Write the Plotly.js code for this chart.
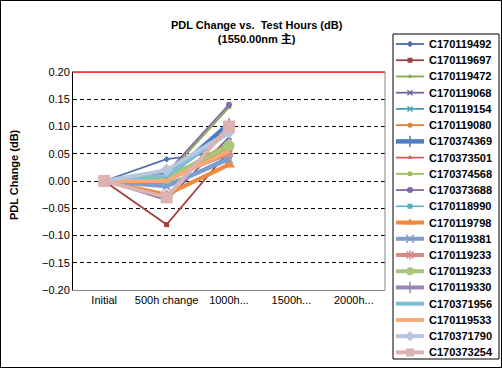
<!DOCTYPE html>
<html>
<head>
<meta charset="utf-8">
<script src="https://cdn.plot.ly/plotly-3.0.1.min.js"></script>
<style>
html,body{margin:0;padding:0;background:#fff;}
#chart{width:500px;height:366px;border:1px solid #000;}
</style>
</head>
<body>
<div id="chart"></div>
<script>
// ---- data ----
const categories = ["Initial", "500h change", "1000h...", "1500h...", "2000h..."];
const seriesNames = [
  "C170119492","C170119697","C170119472","C170119068","C170119154",
  "C170119080","C170374369","C170373501","C170374568","C170373688",
  "C170118990","C170119798","C170119381","C170119233","C170119233",
  "C170119330","C170371956","C170119533","C170371790","C170373254"
];
const s01 = [0, 0.040, 0.055];
const s02 = [0, -0.080, 0.055];
const s03 = [0, 0.010, 0.135];
const s04 = [0, -0.035, 0.080];
const s05 = [0, -0.010, 0.045];
const s06 = [0, 0.005, 0.070];
const s07 = [0, 0.005, 0.105];
const s08 = [0, 0.000, 0.060];
const s09 = [0, 0.010, 0.060];
const s10 = [0, 0.015, 0.140];
const s11 = [0, -0.005, 0.040];
const s12 = [0, -0.025, 0.030];
const s13 = [0, -0.010, 0.040];
const s14 = [0, 0.005, 0.050];
const s15 = [0, 0.005, 0.065];
const s16 = [0, 0.010, 0.090];
const s17 = [0, 0.010, 0.090];
const s18 = [0, 0.000, 0.055];
const s19 = [0, 0.020, 0.090];
const s20 = [0, -0.030, 0.100];
const seriesValues = [s01,s02,s03,s04,s05,s06,s07,s08,s09,s10,s11,s12,s13,s14,s15,s16,s17,s18,s19,s20];
const upperLimit = 0.20;
const yTickVals = [-0.20,-0.15,-0.10,-0.05,0.00,0.05,0.10,0.15,0.20];

// ---- styles ----
const styles = [
  {c:'#4F6FA6', w:1.8, m:'diamond', s:5},
  {c:'#A0403E', w:1.8, m:'square', s:5},
  {c:'#8AA84E', w:1.8, m:'triangle-up', s:5},
  {c:'#7463A0', w:1.8, m:'x-thin-open', s:5},
  {c:'#4AA0B5', w:1.8, m:'x-thin-open', s:5},
  {c:'#D9843D', w:1.8, m:'circle', s:5},
  {c:'#4F7EC0', w:4.5, m:'line-ns-open', s:8},
  {c:'#D0605C', w:1.8, m:'triangle-up', s:5},
  {c:'#9BBE5C', w:1.8, m:'circle', s:5},
  {c:'#8468A8', w:1.8, m:'circle', s:6},
  {c:'#52AFC8', w:1.5, m:'square', s:5},
  {c:'#EF8A3F', w:4, m:'triangle-up', s:11},
  {c:'#7F9DCE', w:4, m:'x-thin-open', s:8},
  {c:'#D98A88', w:4, m:'asterisk-open', s:8},
  {c:'#A9C77A', w:4, m:'circle', s:11},
  {c:'#9A88B8', w:4, m:'line-ns-open', s:8},
  {c:'#7FBED3', w:4, m:'circle', s:0},
  {c:'#F5AA78', w:4, m:'circle', s:0},
  {c:'#B8C7E0', w:4, m:'diamond', s:10},
  {c:'#DCB3B2', w:4, m:'square', s:12}
];

const W = 500, H = 366;
const plotL = 72, plotR = 384, plotT = 71, plotB = 289;
const legL = 392, legR = 498, legT = 33, legB = 358;
const legFirst = 43, legStep = 16.23;

function mline(st){ return {color:st.c, width: st.m.indexOf('open')>=0 ? 1.5 : 0}; }

const traces = [];
seriesValues.forEach((vals, i) => {
  const st = styles[i];
  traces.push({
    type:'scatter', mode: st.s > 0 ? 'lines+markers' : 'lines',
    x: categories.slice(0, vals.length), y: vals,
    name: seriesNames[i], showlegend:false,
    line:{color:st.c, width:st.w},
    marker:{symbol:st.m, size:st.s, color:st.c, line:mline(st)},
    xaxis:'x', yaxis:'y', hoverinfo:'skip'
  });
});
// custom legend samples
const annotations = [];
seriesNames.forEach((nm, i) => {
  const st = styles[i];
  traces.push({
    type:'scatter', mode:'lines+markers',
    x:[legL+3, legL+17, legL+31], y:[i,i,i],
    showlegend:false, hoverinfo:'skip',
    line:{color:st.c, width:st.w},
    marker:{symbol:st.m, size:Math.min(st.s,8), color:st.c, opacity:[0, st.s>0?1:0, 0], line:mline(st)},
    xaxis:'x2', yaxis:'y2'
  });
  annotations.push({
    xref:'x2', yref:'y2', x:legL+34, y:i, text:nm, showarrow:false,
    xanchor:'left', yanchor:'middle',
    font:{family:'Liberation Sans, Arial, sans-serif', size:11, color:'#000', weight:'bold'}
  });
});
annotations.push({
  xref:'paper', yref:'paper', x:13/W, y:1-174/H, text:'PDL Change (dB)', textangle:-90,
  showarrow:false, xanchor:'center', yanchor:'middle',
  font:{family:'Liberation Sans, Arial, sans-serif', size:11, color:'#000', weight:'bold'}
});

const legSpan = legB - legT;
const legTopUnits = -(legFirst - legT) / legStep;
const layout = {
  width:W, height:H, margin:{l:0,r:0,t:0,b:0},
  paper_bgcolor:'#fff', plot_bgcolor:'#fff',
  font:{family:'Liberation Sans, Arial, sans-serif', size:11, color:'#000'},
  title:{
    text:'PDL Change vs.\u00A0 Test Hours (dB)<br>(1550.00nm 主)',
    x:255.7/W, xanchor:'center', xref:'container',
    y:1-28/H, yanchor:'middle', yref:'container',
    font:{family:'Liberation Sans, Arial, "Noto Sans CJK SC", sans-serif', size:11, color:'#000', weight:'bold'}
  },
  showlegend:false,
  xaxis:{
    domain:[plotL/W, plotR/W], type:'category', categoryorder:'array', categoryarray:categories,
    tickvals:categories, ticktext:categories,
    range:[-0.5, categories.length-0.5], showgrid:false, zeroline:false,
    showline:true, linecolor:'#868686', linewidth:1, mirror:true, ticks:'',
    tickfont:{size:11, color:'#000'}, fixedrange:true
  },
  yaxis:{
    domain:[1-plotB/H, 1-plotT/H], range:[-0.20, 0.20], tickvals:yTickVals, tickformat:'.2f',
    showgrid:true, gridcolor:'#000', gridwidth:1, griddash:'4px,3px',
    zeroline:false, showline:true, linecolor:'#000', linewidth:1, ticks:'',
    tickfont:{size:11, color:'#000'}, fixedrange:true
  },
  xaxis2:{domain:[legL/W, legR/W], range:[legL, legR], visible:false, fixedrange:true, anchor:'y2'},
  yaxis2:{domain:[1-legB/H, 1-legT/H], range:[legTopUnits + legSpan/legStep, legTopUnits], visible:false, fixedrange:true, anchor:'x2'},
  shapes:[
    {type:'line', xref:'x domain', yref:'y', x0:0, x1:1, y0:upperLimit, y1:upperLimit, line:{color:'#FF0000', width:1.5}, layer:'above'},
    {type:'line', xref:'paper', yref:'paper', x0:plotR/W, x1:plotR/W, y0:1-plotB/H, y1:1-plotT/H, line:{color:'#868686', width:1}},
    {type:'rect', xref:'paper', yref:'paper', x0:legL/W, x1:legR/W, y0:1-legB/H, y1:1-legT/H, line:{color:'#000', width:1}}
  ],
  annotations:annotations
};
Plotly.newPlot('chart', traces, layout, {staticPlot:true, displayModeBar:false});
</script>
</body>
</html>
